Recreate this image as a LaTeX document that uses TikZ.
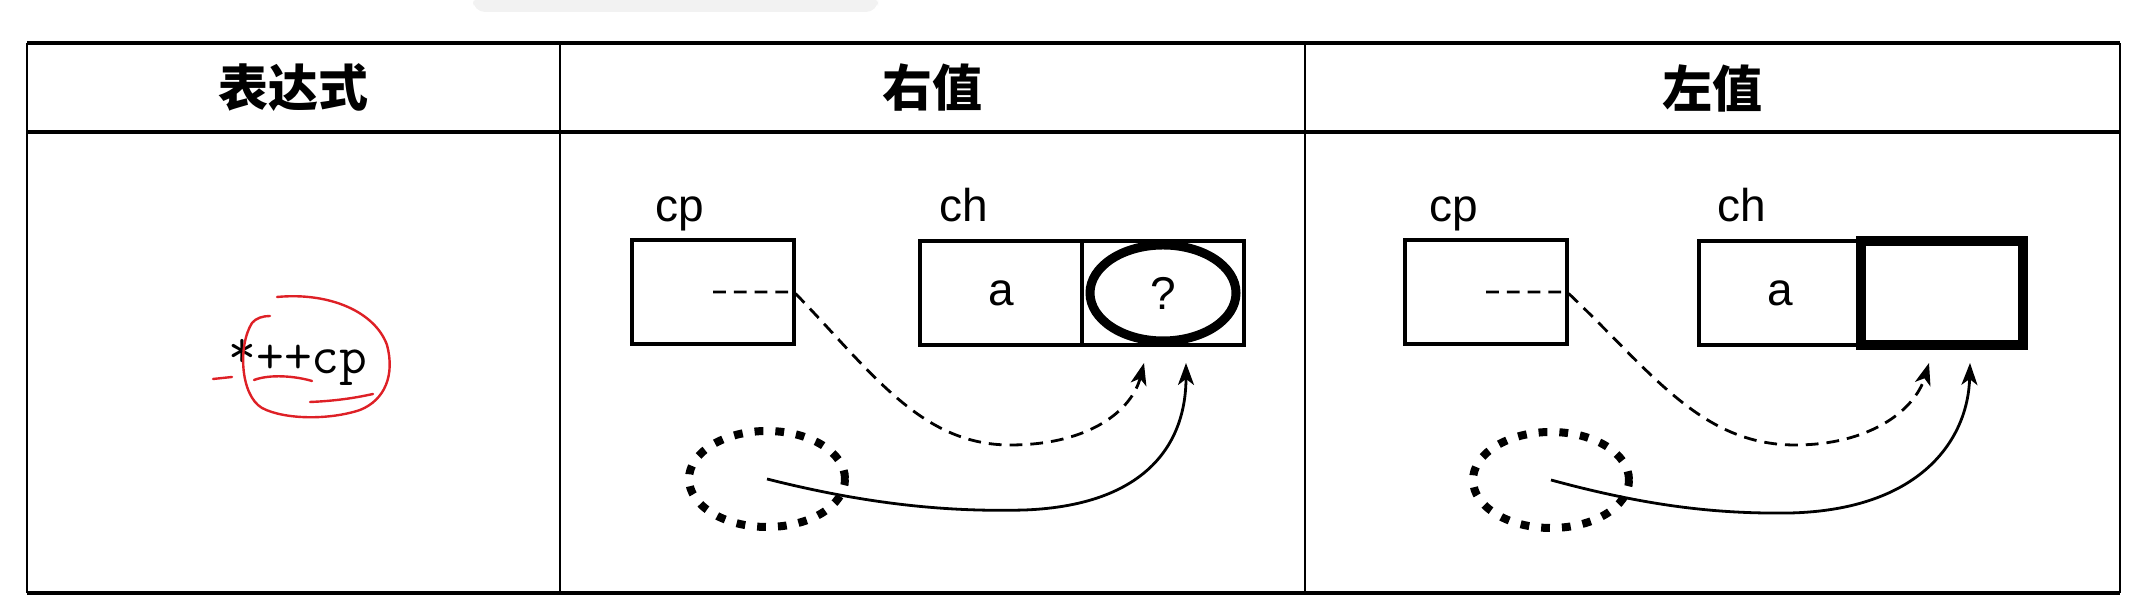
\documentclass[tikz,border=0pt]{standalone}
\usepackage{fontspec}
\setmainfont{Liberation Sans}
\newfontfamily\cjkfont{Noto Sans CJK SC}
\usetikzlibrary{arrows.meta}
\usetikzlibrary{positioning}
\usetikzlibrary{shapes.geometric}

\definecolor{penred}{RGB}{222,32,38}

\tikzset{
  rule/.style={line width=1pt},
  colrule/.style={line width=0.7pt},
  head/.style={font=\cjkfont\bfseries\fontsize{12.5}{15}\selectfont},
  cell/.style={draw,line width=1pt,minimum width=40.5pt,minimum height=26pt,inner sep=0pt,outer sep=0pt,font=\fontsize{11.5}{14}\selectfont},
  varname/.style={anchor=base west,inner sep=0pt,font=\fontsize{11.5}{14}\selectfont},
  target/.style={draw,ellipse,line width=2.25pt,minimum width=36.5pt,minimum height=24pt,inner sep=0pt,font=\fontsize{11.5}{14}\selectfont},
  dotloop/.style={draw,ellipse,line width=2pt,dash pattern=on 2.2pt off 3pt,minimum width=39pt,minimum height=24pt,inner sep=0pt},
  ptrdash/.style={line width=0.7pt,dash pattern=on 3.2pt off 2pt,-{Stealth[length=5.5pt,width=4pt,inset=1.5pt]}},
  ptrline/.style={line width=0.7pt,-{Stealth[length=5.5pt,width=4pt,inset=1.5pt]}},
  scribble/.style={penred,line width=0.6pt,line cap=round}
}

\begin{document}
\begin{tikzpicture}[x=0.25pt,y=-0.25pt]
    \useasboundingbox (0,0) rectangle (2152,616);
    \fill[black!5,rounded corners=3pt] (473,-6) rectangle (878,12);

    % table
    \draw[rule] (27,43) -- (2120,43);
    \draw[rule] (27,132) -- (2120,132);
    \draw[rule] (27,593) -- (2120,593);
    \draw[colrule] (27,43) -- (27,593);
    \draw[colrule] (560,43) -- (560,593);
    \draw[colrule] (1305,43) -- (1305,593);
    \draw[colrule] (2120,43) -- (2120,593);
    \node[head] (hExpr) at (293,88) {表达式};
    \node[head] (hRight) at (932,88) {右值};
    \node[head] (hLeft) at (1712,88) {左值};

    % expression
    \node[anchor=base,inner sep=0pt,font=\ttfamily\fontsize{13.5}{16}\selectfont] (expr) at (298,374) {\raisebox{0.12em}{*}++cp};
    \draw[scribble] (277,297) .. controls (330,292) and (375,312) .. (387,345)
        .. controls (395,375) and (385,400) .. (360,410)
        .. controls (330,420) and (285,420) .. (262,408)
        .. controls (240,395) and (238,345) .. (252,323)
        .. controls (256,318) and (263,316) .. (270,316);
    \draw[scribble] (310,402) .. controls (335,401) and (355,398) .. (373,394);
    \draw[scribble] (254,380) .. controls (270,374) and (295,376) .. (312,381);
    \draw[scribble] (213,379) -- (232,377);

    % rvalue
    \node[cell] (cpM) at (713,292) {};
    \node[varname] (cpnM) at (655,222) {cp};
    \node[cell] (chaM) at (1001,293) {a};
    \node[cell,right=0pt of chaM] (chbM) {};
    \node[varname] (chnM) at (939,222) {ch};
    \node[target] (qM) at (chbM.center) {?};
    \node[dotloop] (ptrM) at (767,479) {};
    \coordinate (tipdM) at (1144,363);
    \coordinate (tipsM) at (1186,363);
    \draw[ptrdash] (cpM.center) -- (cpM.east) .. controls (870,370) and (920,445) .. (1010,445)
        .. controls (1090,445) and (1132,410) .. (tipdM);
    \draw[ptrline] (ptrM.center) .. controls (870,505) and (950,512) .. (1025,510)
        .. controls (1150,505) and (1186,440) .. (tipsM);

    % lvalue
    \node[cell] (cpR) at (1486,292) {};
    \node[varname] (cpnR) at (1429,222) {cp};
    \node[cell] (chaR) at (1780,293) {a};
    \node[cell,line width=2.5pt,right=0pt of chaR] (chbR) {};
    \node[varname] (chnR) at (1717,222) {ch};
    \node[dotloop] (ptrR) at (1551,480) {};
    \coordinate (tipdR) at (1929,363);
    \coordinate (tipsR) at (1970,363);
    \draw[ptrdash] (cpR.center) -- (cpR.east) .. controls (1650,370) and (1700,445) .. (1795,445)
        .. controls (1870,445) and (1915,410) .. (tipdR);
    \draw[ptrline] (ptrR.center) .. controls (1650,507) and (1720,514) .. (1790,513)
        .. controls (1920,510) and (1968,440) .. (tipsR);
\end{tikzpicture}
\end{document}
